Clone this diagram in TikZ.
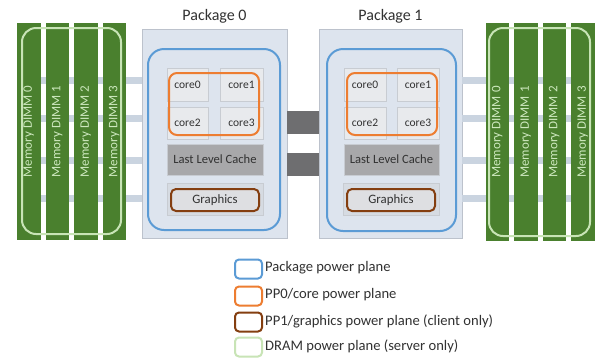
\documentclass[tikz,border=0pt]{standalone}
\usepackage{fontspec}
\setmainfont{Carlito}
\definecolor{dimmgreen}{RGB}{74,128,46}
\definecolor{dramline}{RGB}{200,228,182}
\definecolor{dimmtext}{RGB}{205,232,190}
\definecolor{pkgfill}{RGB}{221,228,238}
\definecolor{pkgline}{RGB}{188,194,204}
\definecolor{planeblue}{RGB}{91,155,213}
\definecolor{planeorange}{RGB}{237,125,49}
\definecolor{planebrown}{RGB}{132,62,16}
\definecolor{corefill}{RGB}{232,234,237}
\definecolor{coreline}{RGB}{200,204,210}
\definecolor{llcfill}{RGB}{168,168,170}
\definecolor{gfxfill}{RGB}{214,219,226}
\definecolor{linkcol}{RGB}{202,212,224}
\definecolor{qpicol}{RGB}{110,110,112}
\definecolor{txt}{RGB}{50,50,50}
\tikzset{
  blk/.style 2 args={anchor=north west, inner sep=0pt, outer sep=0pt, minimum width=#1, minimum height=#2},
  dimmbar/.style={fill=dimmgreen, draw=none},
  dimmtxt/.style={rotate=90, text=dimmtext, font=\fontsize{13}{15}\selectfont, inner sep=0pt},
  dramplane/.style={draw=dramline, line width=2pt, rounded corners=14pt},
  pkgbox/.style={fill=pkgfill, draw=pkgline, line width=0.8pt},
  pkglabel/.style={text=txt, font=\fontsize{16}{19}\selectfont, inner sep=0pt},
  pkgplane/.style={draw=planeblue, line width=2pt, rounded corners=16pt},
  corebox/.style={fill=corefill, draw=coreline, line width=0.6pt, text=txt, font=\fontsize{11.5}{13}\selectfont},
  coreplane/.style={draw=planeorange, line width=2pt, rounded corners=8pt},
  llcbox/.style={fill=llcfill, draw=coreline, line width=0.6pt, text=txt, font=\fontsize{12.6}{14}\selectfont},
  gfxouter/.style={fill=gfxfill, draw=coreline, line width=0.6pt},
  gfxplane/.style={draw=planebrown, fill=corefill!90!gray, line width=2pt, rounded corners=5pt, text=txt, font=\fontsize{12.8}{14}\selectfont},
  memlink/.style={draw=linkcol, line width=7pt},
  qpi/.style={draw=qpicol, line width=23pt},
  swatch/.style={anchor=north west, inner sep=0pt, minimum width=27pt, minimum height=19pt, line width=2pt, rounded corners=4pt},
  legtxt/.style={anchor=west, text=txt, font=\fontsize{14.6}{16}\selectfont, inner sep=0pt}
}
\begin{document}
\begin{tikzpicture}[x=1pt,y=-1pt]
\useasboundingbox[fill=white] (0,0) rectangle (595,360);

% packages
\node[pkgbox, blk={145pt}{209pt}] (pkg0) at (142,29) {};
\node[pkgbox, blk={143pt}{209pt}] (pkg1) at (319,29) {};
\node[pkglabel] (lbl0) at (214.5,16) {Package 0};
\node[pkglabel] (lbl1) at (390.5,16) {Package 1};

% memory links (behind DIMMs)
\foreach \yy [count=\i] in {80,118,160,198} {
  \coordinate (la\i) at (28,\yy);
  \coordinate (ra\i) at (583,\yy);
  \draw[memlink] (la\i) -- (pkg0.west |- la\i);
  \draw[memlink] (pkg1.east |- ra\i) -- (ra\i);
}

% left DIMMs
\foreach \xx/\n in {17/0,45.5/1,74/2,102.5/3} {
  \node[dimmbar, blk={23.5pt}{217pt}] (dimmL\n) at (\xx,23) {};
  \node[dimmtxt] (dimmLt\n) at (dimmL\n.center) {Memory DIMM \n};
}
\draw[dramplane] (22,28) rectangle (121,234);
% right DIMMs
\foreach \xx/\n in {485.5/0,514/1,542.5/2,571/3} {
  \node[dimmbar, blk={23.5pt}{218pt}] (dimmR\n) at (\xx,23) {};
  \node[dimmtxt] (dimmRt\n) at (dimmR\n.center) {Memory DIMM \n};
}
\draw[dramplane] (489,28) rectangle (590,236);

% interconnect between packages
\coordinate (q1) at (300,122.5);
\coordinate (q2) at (300,164.5);
\draw[qpi] (pkg0.east |- q1) -- (pkg1.west |- q1);
\draw[qpi] (pkg0.east |- q2) -- (pkg1.west |- q2);

% Package 0 contents
\draw[pkgplane] (148,49) rectangle (280,230);
\node[corebox, blk={41pt}{33pt}] (p0c0) at (167,68) {core0};
\node[corebox, blk={43pt}{33pt}] (p0c1) at (220,68) {core1};
\node[corebox, blk={41pt}{32pt}] (p0c2) at (167,107) {core2};
\node[corebox, blk={43pt}{32pt}] (p0c3) at (220,107) {core3};
\draw[coreplane] (169,73) rectangle (259,135);
\node[llcbox, blk={96pt}{31pt}] (p0llc) at (167,144) {Last Level Cache};
\node[gfxouter, blk={96pt}{32pt}] (p0g) at (167,183) {};
\node[gfxplane, blk={88pt}{22pt}] (p0gfx) at (171,189) {Graphics};

% Package 1 contents
\draw[pkgplane] (327,49) rectangle (456,231);
\node[corebox, blk={42pt}{33pt}] (p1c0) at (344,68) {core0};
\node[corebox, blk={42pt}{33pt}] (p1c1) at (397,68) {core1};
\node[corebox, blk={42pt}{32pt}] (p1c2) at (344,107) {core2};
\node[corebox, blk={42pt}{32pt}] (p1c3) at (397,107) {core3};
\draw[coreplane] (347,73) rectangle (437,135);
\node[llcbox, blk={95pt}{31pt}] (p1llc) at (344,144) {Last Level Cache};
\node[gfxouter, blk={96pt}{32pt}] (p1g) at (343,183) {};
\node[gfxplane, blk={88pt}{22pt}] (p1gfx) at (347,189) {Graphics};

% legend
\node[swatch, draw=planeblue] (sw1) at (234,258.5) {};
\node[legtxt] (lt1) at (265,268) {Package power plane};
\node[swatch, draw=planeorange] (sw2) at (234,285.5) {};
\node[legtxt] (lt2) at (265,295) {PP0/core power plane};
\node[swatch, draw=planebrown] (sw3) at (234,311.5) {};
\node[legtxt] (lt3) at (265,321) {PP1/graphics power plane (client only)};
\node[swatch, draw=dramline] (sw4) at (234,336.5) {};
\node[legtxt] (lt4) at (265,346) {DRAM power plane (server only)};
\end{tikzpicture}
\end{document}
